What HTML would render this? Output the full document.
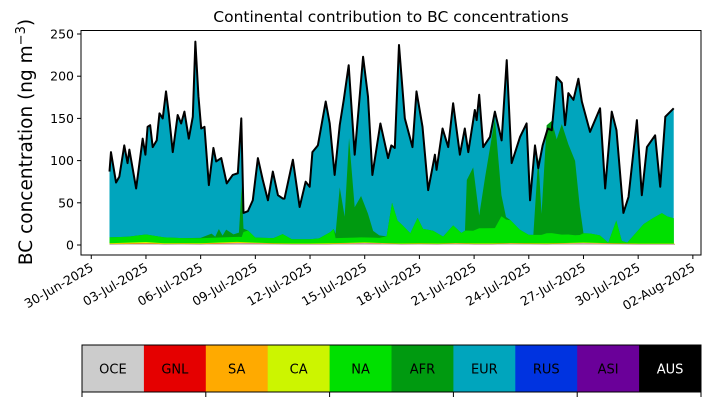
<!DOCTYPE html>
<html><head><meta charset="utf-8"><style>
body{margin:0;background:#fff;width:710px;height:402px;overflow:hidden}
svg{display:block;font-family:"DejaVu Sans","Liberation Sans",sans-serif}
</style></head><body>
<svg id="c" width="710" height="402" xmlns="http://www.w3.org/2000/svg"></svg>
<script>
// ---- data ----
const totalT=[0,0.08,0.36,0.54,0.81,0.99,1.09,1.46,1.82,1.97,2.09,2.23,2.37,2.59,2.74,2.92,3.10,3.25,3.47,3.74,3.93,4.11,4.35,4.57,4.71,4.88,5.03,5.21,5.45,5.70,5.85,6.13,6.43,6.76,7.04,7.23,7.35,7.59,7.86,8.14,8.41,8.69,8.96,9.24,9.51,9.60,10.06,10.43,10.76,10.98,11.13,11.43,11.86,12.08,12.35,12.63,12.85,13.12,13.45,13.91,14.18,14.42,14.86,15.28,15.46,15.65,15.88,16.20,16.62,16.84,17.17,17.48,17.85,17.94,18.27,18.58,18.85,19.22,19.49,19.68,20.04,20.14,20.28,20.50,20.87,21.14,21.51,21.79,22.06,22.52,22.88,23.07,23.34,23.52,23.76,24.04,24.26,24.53,24.81,24.99,25.17,25.45,25.72,25.91,26.36,26.91,27.19,27.55,27.81,28.19,28.47,28.93,29.20,29.48,29.93,30.21,30.49,30.95];
const totalV=[87,110,74,81,118,97,113,67,126,107,140,142,116,124,156,150,182,156,110,154,144,158,126,152,241,176,138,140,71,115,99,103,73,83,85,150,38,40,53,103,77,53,87,59,55,55,101,45,75,69,110,118,170,144,83,142,172,213,107,223,176,83,144,103,118,115,237,150,116,182,140,65,107,89,138,116,168,107,138,110,160,148,178,116,128,158,124,219,97,128,144,53,118,91,118,138,136,199,192,142,180,172,197,170,134,162,67,158,136,38,57,148,59,116,130,69,152,162,85,166];
const compT=[0,1,2,3,4,5,5.6,5.8,6.0,6.2,6.4,6.8,7.1,7.25,7.35,7.6,8,9,9.5,10,11,11.5,12.1,12.3,12.4,12.63,12.9,13.14,13.45,13.8,14.18,14.46,14.8,15.2,15.5,15.8,16.1,16.5,16.9,17.2,17.75,18.3,18.85,19.3,19.5,19.6,19.95,20.28,20.6,21.14,21.5,21.75,22.0,22.5,23.0,23.25,23.52,23.7,23.98,24.26,24.53,24.81,25.17,25.54,25.8,26.0,26.36,26.9,27.36,27.8,28.1,28.4,29.3,29.8,30.3,30.6,30.95];
const naV=[7,7,9,7,6,6,6,6,6,6,6,6,6,6,12,14,6,6,11,5,5,6,13,17,6,6,6,6,6,6,6,6,6,8,48,27,21,12,30,17,15,8,21,12,15,15,15,18,18,18,32,28,27,16,10,10,10,10,12,12,11,10,10,9,9,11,11,9,0.5,27,3,1,23,30,36,32,30];
const afrV=[0,0,0,0,0,0.5,5,1,10,2,9,3,5,60,4,0,0,0,0,0,0,0,0,0,5,60,25,118,36,49,28,8,3,0,0,0,0,0,0,0,0,0,0,0,0,60,75,15,60,130,25,3,0,0,0,0,92,25,128,133,112,131,107,88,33,0,0,0,0,0,0,0,0,0,0,0,0];
const baseT=[0,1,2,3,4,5,6,7,8,9,10,11,12,13,14,15,16,17,18,19,20,21,22,23,24,25,26,27,28,29,30,31];
const oceV=[1,1.2,1.5,1,1.2,1,1.5,2,1.8,1.2,1,1,1,1.5,2,1.5,1,1.2,1,1.5,1,1,1.5,1.2,1,1.5,2,1.5,1.2,1,1,1];
const gnlV=[0.2,0.2,0.3,0.2,0.2,0.2,0.3,0.3,0.2,0.2,0.2,0.2,0.2,0.2,0.3,0.2,0.2,0.2,0.2,0.2,0.2,0.2,0.2,0.2,0.2,0.2,0.2,0.2,0.2,0.2,0.2,0.2];
const saV=[0.3,0.5,0.6,0.3,0.3,0.3,0.5,0.6,0.3,0.3,0.2,0.2,0.3,0.3,0.3,0.2,0.2,0.3,0.2,0.2,0.3,0.3,0.2,0.2,0.3,0.2,0.3,0.2,0.2,0.2,0.2,0.2];
const caV=[0.5,0.9,1.1,0.6,0.5,0.5,0.6,0.8,0.5,0.4,0.4,0.4,0.5,0.5,0.5,0.4,0.4,0.4,0.4,0.4,0.4,0.4,0.4,0.4,0.4,0.4,0.4,0.4,0.3,0.3,0.3,0.3];
const yTicks=[0,50,100,150,200,250];
const xTickLabels=["30-Jun-2025","03-Jul-2025","06-Jul-2025","09-Jul-2025","12-Jul-2025","15-Jul-2025","18-Jul-2025","21-Jul-2025","24-Jul-2025","27-Jul-2025","30-Jul-2025","02-Aug-2025"];
const xTickDays=[-1,2,5,8,11,14,17,20,23,26,29,32];
const regions=["OCE","GNL","SA","CA","NA","AFR","EUR","RUS","ASI","AUS"];
const regionColors=["#cccccc","#e50000","#ffaa00","#ccf500","#00e000","#009a10","#00a5bd","#0033e0","#6a0099","#000000"];

// ---- scales ----
const X0=81,X1=701,Y0=30.5,Y1=255;
const xs=t=>109.5+t*18.23;
const ys=v=>245-v*0.844;
const NS="http://www.w3.org/2000/svg";
const svg=document.getElementById('c');
function el(tag,attrs,parent){const e=document.createElementNS(NS,tag);for(const k in attrs)e.setAttribute(k,attrs[k]);(parent||svg).appendChild(e);return e;}
function interp(T,V,t){if(t<=T[0])return V[0];for(let i=1;i<T.length;i++){if(t<=T[i]){const f=(t-T[i-1])/(T[i]-T[i-1]);return V[i-1]+f*(V[i]-V[i-1]);}}return V[V.length-1];}

const g=el('g',{'clip-path':'url(#clipA)'});
const cp=el('clipPath',{id:'clipA'});el('rect',{x:X0,y:Y0,width:X1-X0,height:Y1-Y0},cp);

// EUR area (total)
let d='M'+xs(totalT[0])+','+ys(0);
totalT.forEach((t,i)=>d+='L'+xs(t).toFixed(2)+','+ys(totalV[i]).toFixed(2));
d+='L'+xs(totalT[totalT.length-1])+','+ys(0)+'Z';
const eur=el('path',{d:d,fill:regionColors[6]},g);



// stacked component layers on compT grid
const baseAt=t=>interp(baseT,oceV,t)+interp(baseT,gnlV,t)+interp(baseT,saV,t)+interp(baseT,caV,t);
function areaPath(T,top){let p='M'+xs(T[0])+','+ys(0);T.forEach((t,i)=>p+='L'+xs(t).toFixed(2)+','+ys(top(i,t)).toFixed(2));return p+'L'+xs(T[T.length-1])+','+ys(0)+'Z';}
const afrP=el('path',{d:areaPath(compT,(i,t)=>baseAt(t)+naV[i]+afrV[i]),fill:regionColors[5]},g);


const naP=el('path',{d:areaPath(compT,(i,t)=>baseAt(t)+naV[i]),fill:regionColors[4]},g);


const baseLayers=[oceV,gnlV,saV,caV];
for(let k=3;k>=0;k--){
  const p=el('path',{d:areaPath(baseT,(i)=>{let s=0;for(let j=0;j<=k;j++)s+=baseLayers[j][i];return s;}),fill:regionColors[k]},g);
  
  
}
// total line
let ld='';totalT.forEach((t,i)=>ld+=(i?'L':'M')+xs(t).toFixed(2)+','+ys(totalV[i]).toFixed(2));
const line=el('path',{d:ld,fill:'none',stroke:'#000',"stroke-width":2,"stroke-linejoin":'round'},g);



// axes frame
const frame=el('rect',{x:X0,y:Y0,width:X1-X0,height:Y1-Y0,fill:'none',stroke:'#000','stroke-width':1});


yTicks.forEach(v=>{
  el('line',{x1:X0-4,x2:X0,y1:ys(v),y2:ys(v),stroke:'#000'});
  const tx=el('text',{x:X0-7,y:ys(v)+4.5,'text-anchor':'end','font-size':12.5},svg);tx.textContent=v;
  
  
});
xTickDays.forEach((dd,i)=>{
  const x=xs(dd);
  el('line',{x1:x,x2:x,y1:Y1,y2:Y1+4,stroke:'#000'});
  const tx=el('text',{x:x+3,y:Y1+15,'text-anchor':'end','font-size':12.5,transform:`rotate(-30 ${x+3} ${Y1+15})`});tx.textContent=xTickLabels[i];
  
  
});
const yl=el('text',{x:32,y:142,'text-anchor':'middle','font-size':18.5,transform:'rotate(-90 32 142)'});
yl.innerHTML='BC concentration (ng m<tspan dy="-7" font-size="13">−3</tspan><tspan dy="7">)</tspan>';


const ti=el('text',{x:391,y:22,'text-anchor':'middle','font-size':15.5});ti.textContent='Continental contribution to BC concentrations';



// colour legend bar
const LX=82,LW=619,LY=345,LH=47,seg=LW/10;
regions.forEach((r,i)=>{
  const rc=el('rect',{x:LX+i*seg,y:LY,width:seg+0.5,height:LH,fill:regionColors[i]});
  
  
  const tx=el('text',{x:LX+i*seg+seg/2,y:LY+LH/2+5,'text-anchor':'middle','font-size':13,fill:i===9?'#fff':'#000'});tx.textContent=r;
  
  
});
el('rect',{x:LX,y:LY,width:LW,height:LH,fill:'none',stroke:'#000','stroke-width':1});
for(let i=0;i<=10;i+=2){el('line',{x1:LX+i*seg,x2:LX+i*seg,y1:LY+LH,y2:LY+LH+5,stroke:'#000'});}
</script>
</body></html>
